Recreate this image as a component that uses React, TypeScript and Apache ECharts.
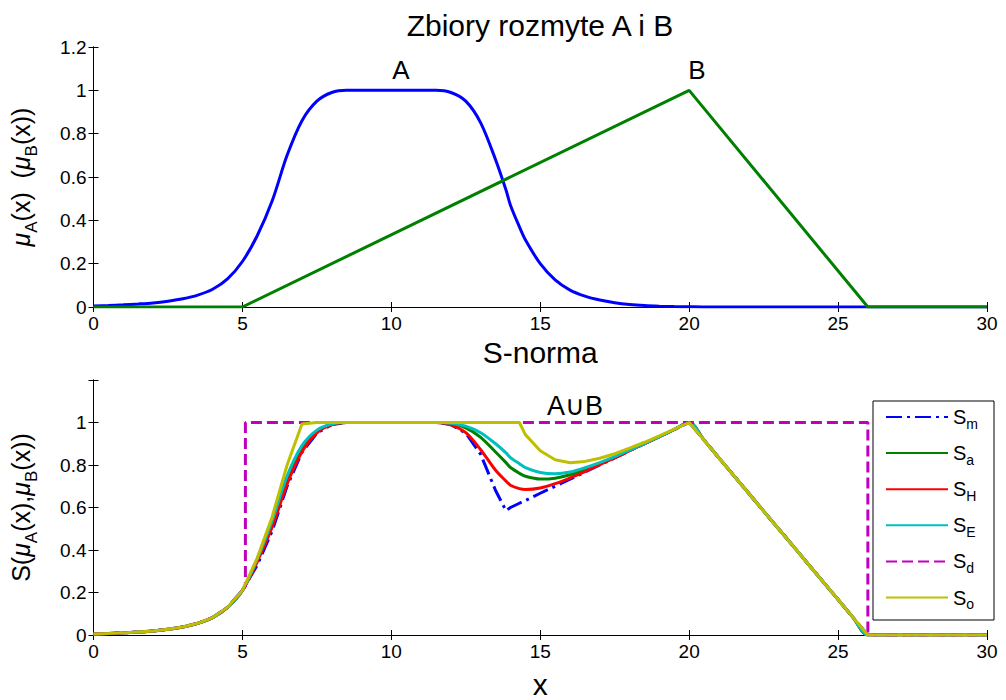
import React, { useEffect, useRef } from "react";
import * as echarts from "echarts";

// x sampling grid shared by the curves
const xGrid = [
  0, 0.5, 1, 1.5, 2, 2.5, 3, 3.5, 4, 4.5,
  5, 5.5, 6, 6.5, 7, 7.5, 8, 8.5, 9, 9.5,
  10, 10.5, 11, 11.5, 12, 12.5, 13, 13.5, 13.85, 14, 14.3,
  14.5, 15, 15.5, 16, 16.5, 17, 17.5, 18, 18.5, 19, 19.5, 20,
  20.5, 21, 21.5, 22, 22.5, 23, 23.5, 24, 24.5, 25, 25.5, 26,
  26.5, 27, 27.5, 28, 28.5, 29, 29.5, 30,
];

// top plot: fuzzy set A
const muA = [
  0.005, 0.007, 0.01, 0.014, 0.019, 0.027, 0.038, 0.055, 0.082, 0.13,
  0.21, 0.33, 0.49, 0.70, 0.86, 0.95, 0.99, 1, 1, 1,
  1, 1, 1, 1, 0.99, 0.95, 0.85, 0.68, 0.54, 0.47, 0.37,
  0.31, 0.2, 0.125, 0.078, 0.05, 0.032, 0.02, 0.012, 0.007, 0.004, 0.002, 0.001,
  0, 0, 0, 0, 0, 0, 0, 0, 0, 0, 0, 0,
  0, 0, 0, 0, 0, 0, 0, 0,
];

// top plot: fuzzy set B (triangle vertices)
const bX = [0, 5, 20, 26, 30];
const bY = [0, 0, 1, 0, 0];

// bottom plot: S-norms
const sM = [
  0.005, 0.007, 0.01, 0.014, 0.019, 0.027, 0.038, 0.055, 0.082, 0.13,
  0.21, 0.33, 0.49, 0.70, 0.86, 0.95, 0.99, 1, 1, 1,
  1, 1, 1, 1, 0.99, 0.95, 0.85, 0.68, 0.585, 0.6, 0.62,
  0.633, 0.667, 0.7, 0.733, 0.767, 0.8, 0.833, 0.867, 0.9, 0.933, 0.967, 1,
  0.917, 0.833, 0.75, 0.667, 0.583, 0.5, 0.417, 0.333, 0.25, 0.167, 0.083, 0,
  0, 0, 0, 0, 0, 0, 0, 0,
];
const sA = [
  0.005, 0.007, 0.01, 0.014, 0.019, 0.027, 0.038, 0.055, 0.082, 0.13,
  0.21, 0.352, 0.524, 0.73, 0.879, 0.958, 0.992, 1, 1, 1,
  1, 1, 1, 1, 0.995, 0.975, 0.93, 0.861, 0.811, 0.788, 0.761,
  0.747, 0.734, 0.738, 0.754, 0.779, 0.806, 0.836, 0.869, 0.901, 0.933, 0.967, 1,
  0.917, 0.833, 0.75, 0.667, 0.583, 0.5, 0.417, 0.333, 0.25, 0.167, 0.083, 0,
  0, 0, 0, 0, 0, 0, 0, 0,
];
const sH = [
  0.005, 0.007, 0.01, 0.014, 0.019, 0.027, 0.038, 0.055, 0.082, 0.13,
  0.21, 0.345, 0.508, 0.71, 0.862, 0.951, 0.99, 1, 1, 1,
  1, 1, 1, 1, 0.989, 0.952, 0.872, 0.775, 0.724, 0.705, 0.689,
  0.685, 0.692, 0.712, 0.739, 0.769, 0.802, 0.834, 0.867, 0.9, 0.933, 0.967, 1,
  0.917, 0.833, 0.75, 0.667, 0.583, 0.5, 0.417, 0.333, 0.25, 0.167, 0.083, 0,
  0, 0, 0, 0, 0, 0, 0, 0,
];
const sE = [
  0.005, 0.007, 0.01, 0.014, 0.019, 0.027, 0.038, 0.055, 0.082, 0.13,
  0.21, 0.359, 0.539, 0.748, 0.891, 0.964, 0.993, 1, 1, 1,
  1, 1, 1, 1, 0.997, 0.983, 0.952, 0.9, 0.857, 0.835, 0.806,
  0.788, 0.765, 0.759, 0.767, 0.787, 0.811, 0.839, 0.87, 0.901, 0.934, 0.967, 1,
  0.917, 0.833, 0.75, 0.667, 0.583, 0.5, 0.417, 0.333, 0.25, 0.167, 0.083, 0,
  0, 0, 0, 0, 0, 0, 0, 0,
];
const sO = [
  0.005, 0.007, 0.01, 0.014, 0.019, 0.027, 0.038, 0.055, 0.082, 0.13,
  0.21, 0.363, 0.557, 0.8, 0.993, 1, 1, 1, 1, 1,
  1, 1, 1, 1, 1, 1, 1, 1, 1, 1, 1,
  0.943, 0.867, 0.825, 0.811, 0.817, 0.832, 0.853, 0.879, 0.907, 0.937, 0.969, 1,
  0.917, 0.833, 0.75, 0.667, 0.583, 0.5, 0.417, 0.333, 0.25, 0.167, 0.083, 0,
  0, 0, 0, 0, 0, 0, 0, 0,
];
// drastic sum
const sdX = [0, 0.5, 1, 1.5, 2, 2.5, 3, 3.5, 4, 4.5, 5, 5.1, 5.1, 26, 26, 30];
const sdY = [0.005, 0.007, 0.01, 0.014, 0.019, 0.027, 0.038, 0.055, 0.082, 0.13, 0.21, 0.23, 1, 1, 0, 0];

const legendNames = ["Sm", "Sa", "SH", "SE", "Sd", "So"];
const xTickStep = 5;
const yTickStep = 0.2;

const FONT = "'Liberation Sans', Arial, Helvetica, sans-serif";

function zip(xs: number[], ys: number[]) {
  return xs.map((x, i) => [x, ys[i]]);
}

const axisLineStyle = { show: true, lineStyle: { color: "#000", width: 1 } };
const tickIn = { show: true, inside: true, length: 5, lineStyle: { color: "#000" } };

function xAxes(gridIndex: number, name: string, nameGap: number) {
  return [
    {
      gridIndex, type: "value", min: 0, max: 30, interval: xTickStep, position: "bottom",
      axisLine: axisLineStyle, axisTick: tickIn, splitLine: { show: false },
      axisLabel: { color: "#000", fontSize: 19, fontFamily: FONT, margin: 7 },
      name, nameLocation: "middle", nameGap,
      nameTextStyle: { color: "#000", fontSize: 30, fontFamily: FONT },
    },
    {
      gridIndex, type: "value", min: 0, max: 30, interval: xTickStep, position: "top",
      axisLine: axisLineStyle, axisTick: tickIn, splitLine: { show: false },
      axisLabel: { show: false },
    },
  ];
}

const richName = {
  n: { fontSize: 25, fontFamily: FONT, color: "#000", lineHeight: 38, verticalAlign: "middle" },
  mu: { fontSize: 25, fontFamily: FONT, fontStyle: "italic", color: "#000", lineHeight: 38, verticalAlign: "middle" },
  sub: { fontSize: 17, fontFamily: FONT, color: "#000", lineHeight: 38, verticalAlign: "bottom" },
};

function yAxes(gridIndex: number, name: string, nameGap: number, hideTop: boolean) {
  return [
    {
      gridIndex, type: "value", min: 0, max: 1.2, interval: yTickStep, position: "left",
      axisLine: axisLineStyle, axisTick: tickIn, splitLine: { show: false },
      axisLabel: {
        color: "#000", fontSize: 19, fontFamily: FONT, margin: 7,
        formatter: (v: number) => (hideTop && v > 1.1 ? "" : String(Math.round(v * 10) / 10)),
      },
      name, nameLocation: "middle", nameGap, nameRotate: 90,
      nameTextStyle: { rich: richName },
    },
    {
      gridIndex, type: "value", min: 0, max: 1.2, interval: yTickStep, position: "right",
      axisLine: axisLineStyle, axisTick: tickIn, splitLine: { show: false },
      axisLabel: { show: false },
    },
  ];
}

export default function App() {
  const ref = useRef<HTMLDivElement>(null);
  useEffect(() => {
    if (!ref.current) return;
    const chart = echarts.init(ref.current, undefined, { renderer: "svg" });
    const lineBase = { type: "line", symbol: "none", showSymbol: false };
    const noSym = (c: string) => ({ color: c, opacity: 0 });
    const option: any = {
      animation: false,
      backgroundColor: "#fff",
      textStyle: { fontFamily: FONT },
      title: [
        {
          text: "Zbiory rozmyte A i B", left: 535, top: 5, textAlign: "center",
          textStyle: { fontSize: 30, fontWeight: "normal", color: "#000", fontFamily: FONT },
        },
        {
          text: "A\u222AB", left: 570, top: 387, textAlign: "center",
          textStyle: { fontSize: 27, fontWeight: "normal", color: "#000", fontFamily: FONT },
        },
      ],
      grid: [
        { left: 93, right: 19, top: 47, height: 260 },
        { left: 93, right: 19, top: 380, height: 257 },
      ],
      xAxis: [...xAxes(0, "S-norma", 30), ...xAxes(1, "x", 34)],
      yAxis: [
        ...yAxes(0, "{mu|\u03BC}{sub|A}{n|(x)  (}{mu|\u03BC}{sub|B}{n|(x))}", 54, false),
        ...yAxes(1, "{n|S(}{mu|\u03BC}{sub|A}{n|(x),}{mu|\u03BC}{sub|B}{n|(x))}", 54, true),
      ],
      legend: {
        data: legendNames,
        orient: "vertical",
        left: 873,
        top: 401,
        padding: [6, 16, 9, 12],
        itemGap: 12.6,
        itemWidth: 62,
        itemHeight: 14,
        backgroundColor: "#fff",
        borderColor: "#000",
        borderWidth: 1,
        borderRadius: 0,
        itemStyle: { opacity: 0 },
        formatter: (n: string) => `{s|S}{sub|${n.slice(1)}}`,
        textStyle: {
          rich: {
            s: { fontSize: 20, fontFamily: FONT, color: "#000", lineHeight: 27, verticalAlign: "middle" },
            sub: { fontSize: 14, fontFamily: FONT, color: "#000", lineHeight: 27, verticalAlign: "bottom" },
          },
        },
      },
      graphic: [
        { type: "text", x: 401, y: 70, style: { text: "A", fontSize: 26, fontFamily: FONT, fill: "#000", textAlign: "center", textVerticalAlign: "middle" } },
        { type: "text", x: 697, y: 70, style: { text: "B", fontSize: 26, fontFamily: FONT, fill: "#000", textAlign: "center", textVerticalAlign: "middle" } },
      ],
      series: [
        { ...lineBase, name: "A", xAxisIndex: 0, yAxisIndex: 0, data: zip(xGrid, muA), smooth: 0.3, lineStyle: { color: "#0000ff", width: 3 } },
        { ...lineBase, name: "B", xAxisIndex: 0, yAxisIndex: 0, data: zip(bX, bY), lineStyle: { color: "#008000", width: 3 } },
        { ...lineBase, name: "Sm", xAxisIndex: 2, yAxisIndex: 2, data: zip(xGrid, sM), itemStyle: noSym("#0000ff"), lineStyle: { color: "#0000ff", width: 3, type: [16, 5, 3, 5] } },
        { ...lineBase, name: "Sa", xAxisIndex: 2, yAxisIndex: 2, data: zip(xGrid, sA), smooth: 0.3, itemStyle: noSym("#008000"), lineStyle: { color: "#008000", width: 3 } },
        { ...lineBase, name: "SH", xAxisIndex: 2, yAxisIndex: 2, data: zip(xGrid, sH), smooth: 0.3, itemStyle: noSym("#ff0000"), lineStyle: { color: "#ff0000", width: 3 } },
        { ...lineBase, name: "SE", xAxisIndex: 2, yAxisIndex: 2, data: zip(xGrid, sE), smooth: 0.3, itemStyle: noSym("#00bfbf"), lineStyle: { color: "#00bfbf", width: 3 } },
        { ...lineBase, name: "Sd", xAxisIndex: 2, yAxisIndex: 2, data: zip(sdX, sdY), itemStyle: noSym("#bf00bf"), lineStyle: { color: "#bf00bf", width: 3, type: [11, 5] } },
        { ...lineBase, name: "So", xAxisIndex: 2, yAxisIndex: 2, data: zip(xGrid, sO), itemStyle: noSym("#bfbf00"), lineStyle: { color: "#bfbf00", width: 3 } },
      ],
    };
    chart.setOption(option);
    return () => chart.dispose();
  }, []);
  return (
    <div
      ref={ref}
      style={{ position: "fixed", left: 0, top: 0, width: 1006, height: 700, background: "#fff" }}
    />
  );
}
